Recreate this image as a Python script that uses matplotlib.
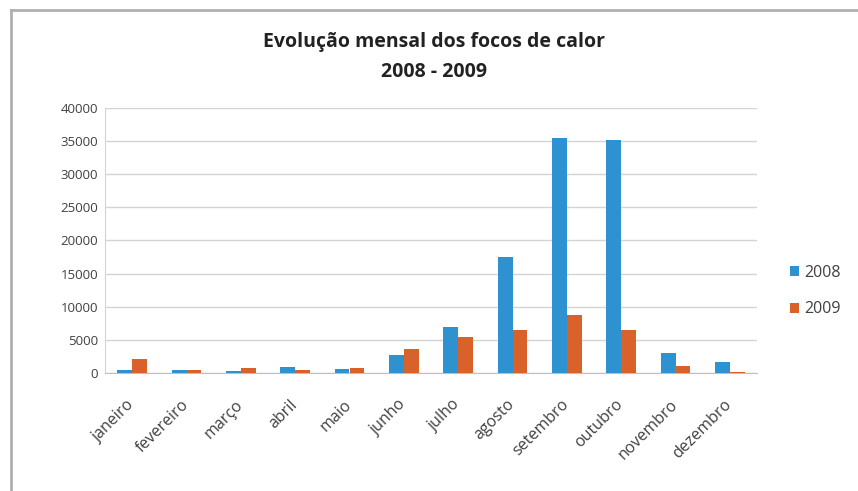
import matplotlib
matplotlib.use("Agg")
import matplotlib.pyplot as plt
import matplotlib.transforms as mtransforms
import numpy as np
from matplotlib.lines import Line2D

months = ["janeiro", "fevereiro", "março", "abril", "maio", "junho",
          "julho", "agosto", "setembro", "outubro", "novembro", "dezembro"]
focos_2008 = [450, 450, 350, 950, 550, 2700, 7000, 17500, 35400, 35100, 3000, 1700]
focos_2009 = [2050, 450, 700, 400, 700, 3600, 5400, 6500, 8700, 6500, 1050, 200]
years = ["2008", "2009"]
yticks = [0, 5000, 10000, 15000, 20000, 25000, 30000, 35000, 40000]

blue = "#2E92D0"
orange = "#D8622A"
grid_c = "#D4D4D4"
text_c = "#404040"

plt.rcParams["font.family"] = ["Open Sans", "DejaVu Sans"]

W, H = 858, 491
fig = plt.figure(figsize=(W / 100, H / 100), dpi=100)
ax = fig.add_axes([105 / W, (H - 373) / H, (757 - 105) / W, (373 - 108) / H])

x = np.arange(len(months))
bw = 0.275
ax.bar(x - bw / 2, focos_2008, bw, color=blue, label=years[0], zorder=3)
ax.bar(x + bw / 2, focos_2009, bw, color=orange, label=years[1], zorder=3)

ax.set_xlim(-0.5, len(months) - 0.5)
ax.set_ylim(0, 40000)
ax.set_yticks(yticks)
ax.set_yticklabels([str(v) for v in yticks], fontsize=9.5, color=text_c)
ax.set_xticks(x)
ax.set_xticklabels(months, rotation=45, ha="right", rotation_mode="anchor",
                   fontsize=11.5, color=text_c)
ax.tick_params(axis="y", length=0, pad=5)
ax.tick_params(axis="x", length=0, pad=17)
shift = mtransforms.ScaledTranslation(-6 / 100, 0, fig.dpi_scale_trans)
for lbl in ax.get_xticklabels():
    lbl.set_transform(lbl.get_transform() + shift)

ax.grid(axis="y", color=grid_c, linewidth=1, zorder=0)
for s in ["top", "right"]:
    ax.spines[s].set_visible(False)
ax.spines["left"].set_color(grid_c)
ax.spines["bottom"].set_color("#BFBFBF")

fig.text(434 / W, 1 - 42 / H, "Evolução mensal dos focos de calor",
         ha="center", va="center", fontsize=14, fontweight="bold", color="#222222")
fig.text(434 / W, 1 - 72 / H, "2008 - 2009",
         ha="center", va="center", fontsize=14, fontweight="bold", color="#222222")

leg = ax.legend(loc="center left", bbox_to_anchor=(779 / W, 1 - 291 / H),
                bbox_transform=fig.transFigure, frameon=False, fontsize=11.5,
                handlelength=0.55, handleheight=0.55, handletextpad=0.3,
                labelspacing=1.3, labelcolor=text_c, borderpad=0.2)

# chart frame
fig.add_artist(Line2D([11 / W, 11 / W], [0, 1 - 10 / H], transform=fig.transFigure,
                      color="#B0B0B0", linewidth=2))
fig.add_artist(Line2D([11 / W, 1], [1 - 10 / H, 1 - 10 / H], transform=fig.transFigure,
                      color="#B0B0B0", linewidth=2))

fig.savefig("out.png", dpi=100, facecolor="white")
